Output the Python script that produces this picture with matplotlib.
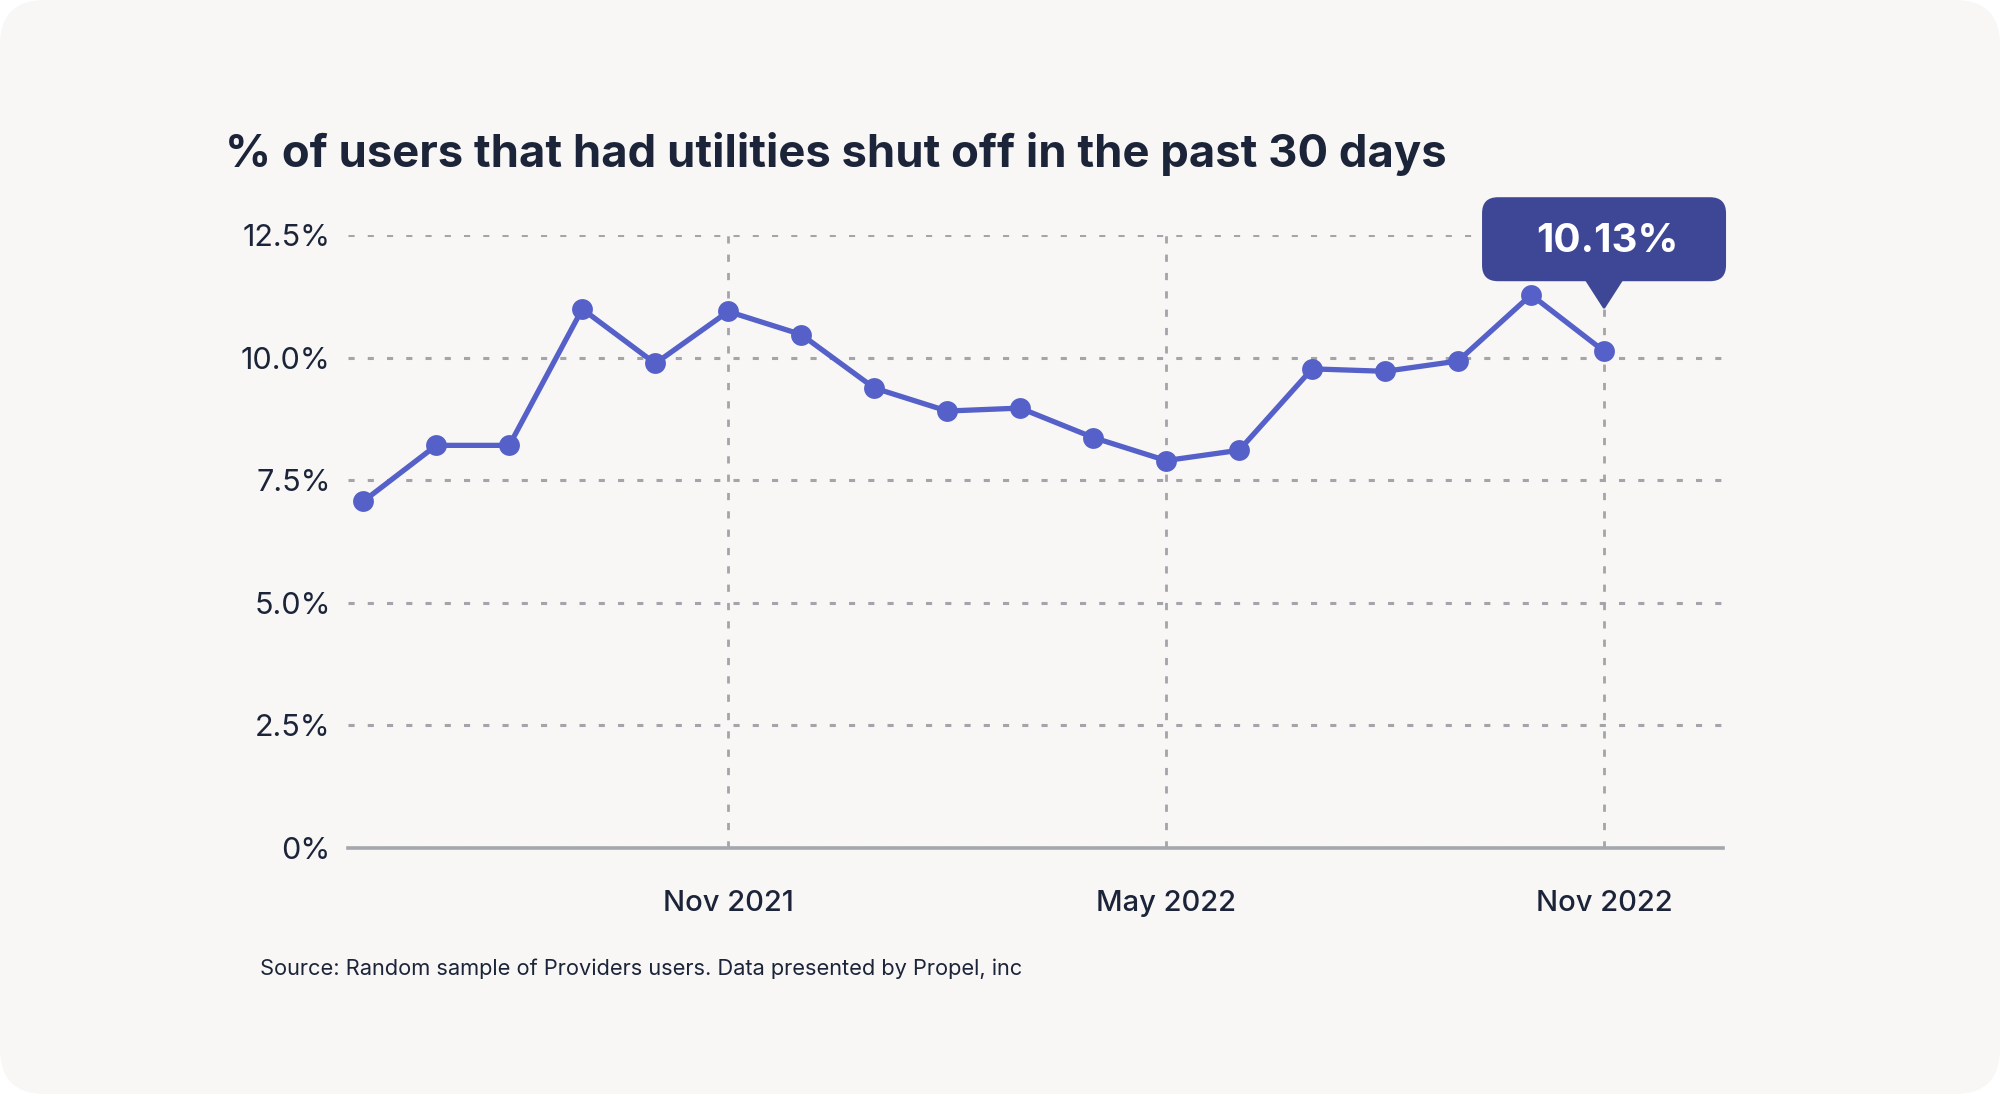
import matplotlib
matplotlib.use("Agg")
import matplotlib.pyplot as plt
import matplotlib.transforms as mtransforms
from matplotlib.patches import FancyBboxPatch, Polygon
from matplotlib.ticker import FixedLocator, FuncFormatter

plt.rcParams['font.family'] = ['Inter', 'DejaVu Sans']

months = ['Jun 2021', 'Jul 2021', 'Aug 2021', 'Sep 2021', 'Oct 2021', 'Nov 2021',
          'Dec 2021', 'Jan 2022', 'Feb 2022', 'Mar 2022', 'Apr 2022', 'May 2022',
          'Jun 2022', 'Jul 2022', 'Aug 2022', 'Sep 2022', 'Oct 2022', 'Nov 2022']
shutoff_pct = [7.07, 8.21, 8.21, 10.99, 9.88, 10.94, 10.47, 9.38, 8.91, 8.97,
               8.37, 7.90, 8.11, 9.77, 9.72, 9.93, 11.28, 10.13]
shown_months = ['Nov 2021', 'May 2022', 'Nov 2022']
y_ticks = [0, 2.5, 5.0, 7.5, 10.0, 12.5]

title = "% of users that had utilities shut off in the past 30 days"
source = "Source: Random sample of Providers users. Data presented by Propel, inc"

INK = '#1b2438'
LINE = '#5560c8'
TIP = '#3e4795'
GRID = '#a3a5aa'
CARD = '#f8f7f5'

fig = plt.figure(figsize=(20, 10.94), dpi=100, facecolor='white')

# rounded card behind everything
card = FancyBboxPatch((0, 0), 2000, 1094, boxstyle="round,pad=0,rounding_size=45",
                      transform=mtransforms.IdentityTransform(), facecolor=CARD,
                      edgecolor='none', zorder=-5)
fig.patches.append(card)

ax = fig.add_axes([0.174, 0.2249, 0.6875, 0.5603])
ax.set_facecolor('none')

x = list(range(len(months)))
ax.plot(x, shutoff_pct, color=LINE, linewidth=3.8, marker='o', markersize=15,
        markeredgewidth=0, zorder=4, clip_on=False)

ax.set_xlim(-0.21, 18.63)
ax.set_ylim(0, 12.5)

ax.xaxis.set_major_locator(FixedLocator([months.index(m) for m in shown_months]))
ax.xaxis.set_major_formatter(FuncFormatter(lambda v, p: months[int(round(v))]))
ax.yaxis.set_major_locator(FixedLocator(y_ticks))
ax.yaxis.set_major_formatter(FuncFormatter(lambda v, p: '0%' if v == 0 else f'{v:.1f}%'))

ax.tick_params(axis='both', length=0, colors=INK)
ax.tick_params(axis='y', pad=12.5, labelsize=22)
ax.tick_params(axis='x', pad=30, labelsize=21)
for lab in ax.get_xticklabels():
    lab.set_fontweight('medium')

ax.grid(axis='y', color=GRID, linewidth=2.2, linestyle=(0, (2, 4.3)))
ax.grid(axis='x', color=GRID, linewidth=2.0, linestyle=(0, (2.6, 4.0)))
ax.set_axisbelow(True)

for side in ['top', 'left', 'right']:
    ax.spines[side].set_visible(False)
ax.spines['bottom'].set_color('#a4a7ae')
ax.spines['bottom'].set_linewidth(2.6)
ax.spines['bottom'].set_zorder(3)

# tooltip on last point, drawn in pixel offsets from the data point
last = len(months) - 1
tip_trans = mtransforms.IdentityTransform() + mtransforms.ScaledTranslation(
    last, shutoff_pct[last], ax.transData)
box = FancyBboxPatch((-122, 70), 244, 84, boxstyle="round,pad=0,rounding_size=16",
                     transform=tip_trans, facecolor=TIP, edgecolor='none',
                     zorder=6, clip_on=False)
ax.add_patch(box)
arrow = Polygon([(-18, 72), (18, 72), (0, 44)], closed=True, transform=tip_trans,
                facecolor=TIP, edgecolor=TIP, linewidth=2, joinstyle='round',
                zorder=6, clip_on=False)
ax.add_patch(arrow)
ax.text(3, 110, f'{shutoff_pct[last]:.2f}%', transform=tip_trans, color='white',
        fontsize=29, fontweight='bold', ha='center', va='center', zorder=7)

fig.text(0.1125, 0.859, title, fontsize=32.7, fontweight='bold', color=INK,
         ha='left', va='center')
fig.text(0.13, 0.1143, source, fontsize=15.7, color=INK, ha='left', va='center')

fig.savefig('out.png', dpi=100, facecolor='white')
